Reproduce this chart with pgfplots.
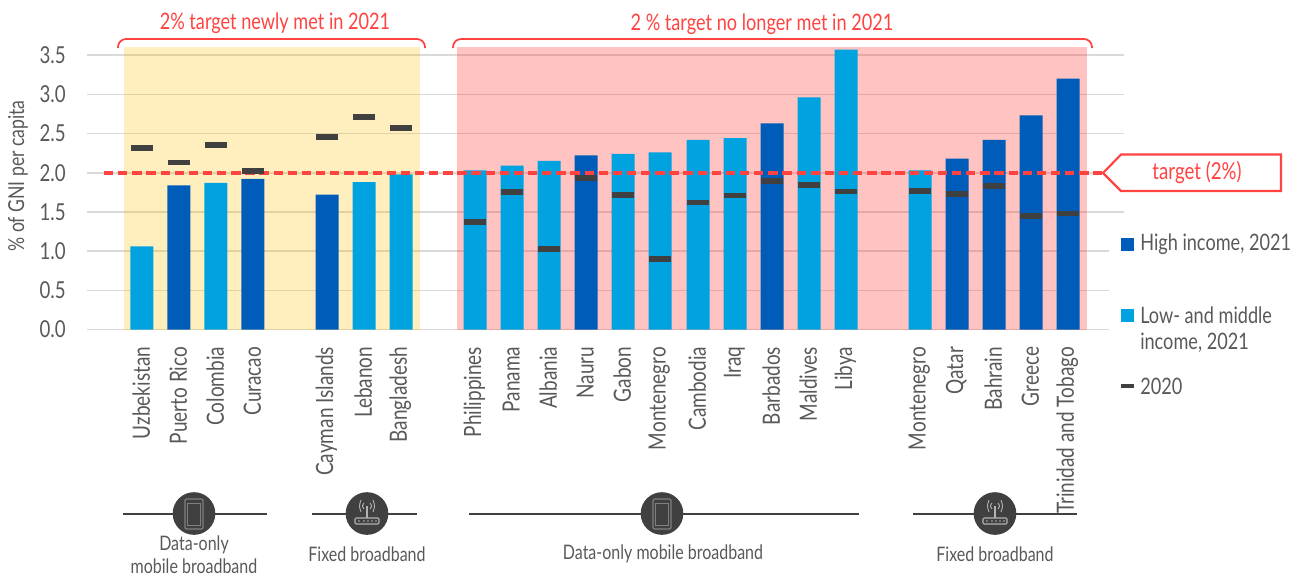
\documentclass[border=0pt]{standalone}
\usepackage{pgfplots}
\pgfplotsset{compat=1.18}
\usepackage{fontspec}
\setmainfont[FakeStretch=0.8]{Lato}
\definecolor{hi}{HTML}{005CB9}
\definecolor{lo}{HTML}{00A2E0}
\definecolor{tgt}{HTML}{FF4340}
\definecolor{dk}{HTML}{404040}
\definecolor{txt}{HTML}{595959}
\definecolor{gridc}{HTML}{D9D9D9}
\definecolor{gold}{HTML}{FFC000}
\def\P(#1,#2){(axis cs:#1,{(329.5-(#2))/78.4})}
\newcommand\phoneicon[1]{%
  \fill[dk] \P(#1,513.5) circle[radius=16pt];
  \draw[gray,line width=.9pt,rounded corners=1pt] \P({#1-9},499) rectangle \P({#1+9},529);
  \draw[gray,line width=.7pt] \P({#1-6.5},503) rectangle \P({#1+6.5},525);
}
\newcommand\wv[2]{%
  \draw[gray!60,line width=.7pt] \P({#1-#2},{506-#2}) .. controls \P({#1-#2-2},506) .. \P({#1-#2},{506+#2});
  \draw[gray!60,line width=.7pt] \P({#1+#2},{506-#2}) .. controls \P({#1+#2+2},506) .. \P({#1+#2},{506+#2});
}
\newcommand\routericon[1]{%
  \fill[dk] \P(#1,513.5) circle[radius=16pt];
  \draw[gray!60,line width=.8pt,rounded corners=.8pt] \P({#1-12},518) rectangle \P({#1+12},524);
  \draw[gray!60,line width=.8pt] \P(#1,518) -- \P(#1,506);
  \wv{#1}{3}\wv{#1}{6}
  \fill[gray!60] \P({#1-8},521) circle[radius=.6pt];
  \fill[gray!60] \P({#1-3},521) circle[radius=.6pt];
  \fill[gray!60] \P({#1+1},521) circle[radius=.6pt];
  \fill[gray!60] \P({#1+5},521) circle[radius=.6pt];
  \fill[gray!60] \P({#1+9},521) circle[radius=.6pt];
}
\begin{document}
\begin{tikzpicture}
\begin{axis}[
  scale only axis, width=777.75pt, height=211.68pt,
  xmin=87, xmax=1124, ymin=0, ymax=3.6,
  clip=false, axis line style={draw=none},
  major tick length=0pt,
  ytick={0,0.5,1,1.5,2,2.5,3,3.5},
  xtick={142,179,216,253,327,364,401,475,512,549,586,623,660,698,735,772,809,846,920,957,994,1031,1068},
  xticklabels={Uzbekistan,Puerto Rico,Colombia,Curacao,Cayman Islands,Lebanon,Bangladesh,Philippines,Panama,Albania,Nauru,Gabon,Montenegro,Cambodia,Iraq,Barbados,Maldives,Libya,Montenegro,Qatar,Bahrain,Greece,Trinidad and Tobago},
  xticklabel style={rotate=90,anchor=east,font=\fontsize{17.8}{20}\selectfont,text=txt,yshift=0.5pt,xshift=-9.5pt},
  yticklabel style={font=\fontsize{17.5}{20}\selectfont,text=txt,xshift=-12.5pt,
    /pgf/number format/fixed,/pgf/number format/fixed zerofill,/pgf/number format/precision=1,
    /pgf/number format/assume math mode=true},
  scaled y ticks=false,
]
% page size
\path[use as bounding box] \P(0,0) rectangle \P(1304,577);
% grid
\addplot[gridc,line width=1.2pt,forget plot] coordinates {(87,3.5)(1124,3.5)};
\addplot[gridc,line width=1.2pt,forget plot] coordinates {(87,3)(1124,3)};
\addplot[gridc,line width=1.2pt,forget plot] coordinates {(87,2.5)(1124,2.5)};
\addplot[gridc,line width=1.2pt,forget plot] coordinates {(87,2)(1124,2)};
\addplot[gridc,line width=1.2pt,forget plot] coordinates {(87,1.5)(1124,1.5)};
\addplot[gridc,line width=1.2pt,forget plot] coordinates {(87,1)(1109,1)};
\addplot[gridc,line width=1.2pt,forget plot] coordinates {(87,0.5)(1109,0.5)};
\addplot[gridc,line width=1.2pt,forget plot] coordinates {(87,0)(1109,0)};
% bands
\addplot[draw=none,fill=gold,fill opacity=0.25,forget plot] coordinates {(124,0)(124,3.6)(420,3.6)(420,0)} --cycle;
\addplot[draw=none,fill=tgt,fill opacity=0.32,forget plot] coordinates {(457,0)(457,3.6)(1087,3.6)(1087,0)} --cycle;
% bars
\addplot[ybar,bar width=17.25pt,bar shift=0pt,fill=hi,draw=none] coordinates {
 (179,1.84)(253,1.92)(327,1.72)(586,2.22)(772,2.63)(957,2.18)(994,2.42)(1031,2.73)(1068,3.20)};
\addplot[ybar,bar width=17.25pt,bar shift=0pt,fill=lo,draw=none] coordinates {
 (142,1.06)(216,1.87)(364,1.88)(401,1.98)(475,2.03)(512,2.09)(549,2.15)(623,2.24)(660,2.26)(698,2.42)(735,2.44)(809,2.96)(846,3.57)(920,2.03)};
% 2020 markers
\addplot[only marks,mark=-,mark size=8.6pt,mark options={dk,line width=4.4pt}] coordinates {
 (142,2.32)(179,2.13)(216,2.35)(253,2.02)(327,2.45)(364,2.71)(401,2.57)(475,1.37)(512,1.75)(549,1.03)(586,1.93)(623,1.72)(660,0.90)(698,1.62)(735,1.71)(772,1.89)(809,1.84)(846,1.76)(920,1.77)(957,1.73)(994,1.83)(1031,1.45)(1068,1.48)};
% target line
\addplot[tgt,line width=2.7pt,dash pattern=on 7pt off 3.6pt,forget plot] coordinates {(104,2)(1102,2)};
% brackets & titles
\draw[tgt,line width=1.3pt,rounded corners=6pt] \P(118,48) -- \P(118,39) -- \P(425,39) -- \P(425,48);
\draw[tgt,line width=1.3pt,rounded corners=6pt] \P(453,48) -- \P(453,39) -- \P(1092,39) -- \P(1092,48);
\node[text=tgt,font=\fontsize{17}{20}\selectfont] at \P(275,23) {2\% target newly met in 2021};
\node[text=tgt,font=\fontsize{17}{20}\selectfont] at \P(762,24) {2 \% target no longer met in 2021};
% callout
\draw[tgt,line width=1.6pt,fill=white,line join=miter] \P(1103,173) -- \P(1121,154.5) -- \P(1281,154.5) -- \P(1281,191) -- \P(1121,191) -- cycle;
\node[text=tgt,font=\fontsize{17.5}{20}\selectfont] at \P(1197,173) {target (2\%)};
% y label
\node[rotate=90,text=txt,font=\fontsize{16.5}{19}\selectfont] at \P(18,176) {\% of GNI per capita};
% legend
\fill[hi] \P(1121,238) rectangle \P(1134,251);
\node[anchor=west,text=txt,font=\fontsize{17}{20}\selectfont,inner sep=0pt] at \P(1140,244.5) {High income, 2021};
\fill[lo] \P(1121,309) rectangle \P(1134,322);
\node[anchor=west,text=txt,font=\fontsize{17}{20}\selectfont,inner sep=0pt] at \P(1140,315) {Low- and middle};
\node[anchor=west,text=txt,font=\fontsize{17}{20}\selectfont,inner sep=0pt] at \P(1140,343) {income, 2021};
\draw[dk,line width=3.3pt] \P(1121,386) -- \P(1134,386);
\node[anchor=west,text=txt,font=\fontsize{17}{20}\selectfont,inner sep=0pt] at \P(1140,386) {2020};
% groups
\draw[dk,line width=1.1pt] \P(123,514) -- \P(267,514);
\draw[dk,line width=1.1pt] \P(312,514) -- \P(417,514);
\draw[dk,line width=1.1pt] \P(469,514) -- \P(859,514);
\draw[dk,line width=1.1pt] \P(913,514) -- \P(1077,514);
\phoneicon{194}
\routericon{367}
\phoneicon{662}
\routericon{995}
\node[text=txt,font=\fontsize{15}{18}\selectfont,inner sep=1pt] at \P(194,545) {Data-only};
\node[text=txt,font=\fontsize{15}{18}\selectfont,inner sep=1pt] at \P(194,566) {mobile broadband};
\node[text=txt,font=\fontsize{15}{18}\selectfont] at \P(367,554) {Fixed broadband};
\node[text=txt,font=\fontsize{15}{18}\selectfont] at \P(663,554) {Data-only mobile broadband};
\node[text=txt,font=\fontsize{15}{18}\selectfont] at \P(995,554) {Fixed broadband};
\end{axis}
\end{tikzpicture}
\end{document}
